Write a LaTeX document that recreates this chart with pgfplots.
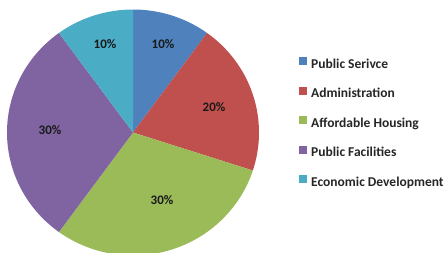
\documentclass[border=0pt]{standalone}
\usepackage{pgfplots}
\pgfplotsset{compat=1.18}
\usepackage{pgfplotstable}
\usepackage{fontspec}
\setmainfont{Carlito}
\definecolor{cA}{HTML}{4F81BD}
\definecolor{cB}{HTML}{C0504D}
\definecolor{cC}{HTML}{9BBB59}
\definecolor{cD}{HTML}{8064A2}
\definecolor{cE}{HTML}{4BACC6}
\pgfplotstableread[col sep=comma]{
name,value
Public Serivce,10
Administration,20
Affordable Housing,30
Public Facilities,30
Economic Development,10
}\piedata
\pgfplotstablegetelem{0}{value}\of\piedata \let\vA\pgfplotsretval
\pgfplotstablegetelem{1}{value}\of\piedata \let\vB\pgfplotsretval
\pgfplotstablegetelem{2}{value}\of\piedata \let\vC\pgfplotsretval
\pgfplotstablegetelem{3}{value}\of\piedata \let\vD\pgfplotsretval
\pgfplotstablegetelem{4}{value}\of\piedata \let\vE\pgfplotsretval
\pgfmathsetmacro\aA{90}
\pgfmathsetmacro\aB{\aA-3.6*\vA}
\pgfmathsetmacro\aC{\aB-3.6*\vB}
\pgfmathsetmacro\aD{\aC-3.6*\vC}
\pgfmathsetmacro\aE{\aD-3.6*\vD}
\pgfmathsetmacro\aF{\aE-3.6*\vE}
\def\cx{133}\def\cy{119.5}\def\rx{126}\def\ry{123}
\begin{document}
\begin{tikzpicture}
\useasboundingbox (0,0) rectangle (447pt,252pt);
\begin{axis}[
  scale only axis, width=447pt, height=252pt,
  xmin=0, xmax=447, ymin=0, ymax=252,
  hide axis, clip=true,
  legend image code/.code={\fill[#1] (0pt,0pt) rectangle (8pt,8pt);},
  legend cell align=left,
  legend style={draw=none, fill=none, at={(axis cs:299,252-57)}, anchor=north west,
    font=\bfseries\fontsize{13.5}{15}\selectfont, text=black!85,
    inner sep=0pt, row sep=15.5pt,
    nodes={inner sep=0pt, text height=9pt, text depth=3pt},
    /tikz/every odd column/.style={column sep=4pt}},
]
\addplot[fill=cA, draw=none, domain=\aB:\aA, samples=40] ({\cx+\rx*cos(x)},{\cy+\ry*sin(x)}) -- (axis cs:\cx,\cy) -- cycle;
\addlegendentry{Public Serivce}
\addplot[fill=cB, draw=none, domain=\aC:\aB, samples=60] ({\cx+\rx*cos(x)},{\cy+\ry*sin(x)}) -- (axis cs:\cx,\cy) -- cycle;
\addlegendentry{Administration}
\addplot[fill=cC, draw=none, domain=\aD:\aC, samples=80] ({\cx+\rx*cos(x)},{\cy+\ry*sin(x)}) -- (axis cs:\cx,\cy) -- cycle;
\addlegendentry{Affordable Housing}
\addplot[fill=cD, draw=none, domain=\aE:\aD, samples=80] ({\cx+\rx*cos(x)},{\cy+\ry*sin(x)}) -- (axis cs:\cx,\cy) -- cycle;
\addlegendentry{Public Facilities}
\addplot[fill=cE, draw=none, domain=\aF:\aE, samples=40] ({\cx+\rx*cos(x)},{\cy+\ry*sin(x)}) -- (axis cs:\cx,\cy) -- cycle;
\addlegendentry{Economic Development}
\begin{scope}[every node/.style={font=\bfseries\fontsize{13}{15}\selectfont, text=black!90}]
\node at (axis cs:163,252-44) {\vA\%};
\node at (axis cs:214,252-107) {\vB\%};
\node at (axis cs:162,252-200) {\vC\%};
\node at (axis cs:50,252-130) {\vD\%};
\node at (axis cs:105,252-44) {\vE\%};
\end{scope}
\end{axis}
\end{tikzpicture}
\end{document}
